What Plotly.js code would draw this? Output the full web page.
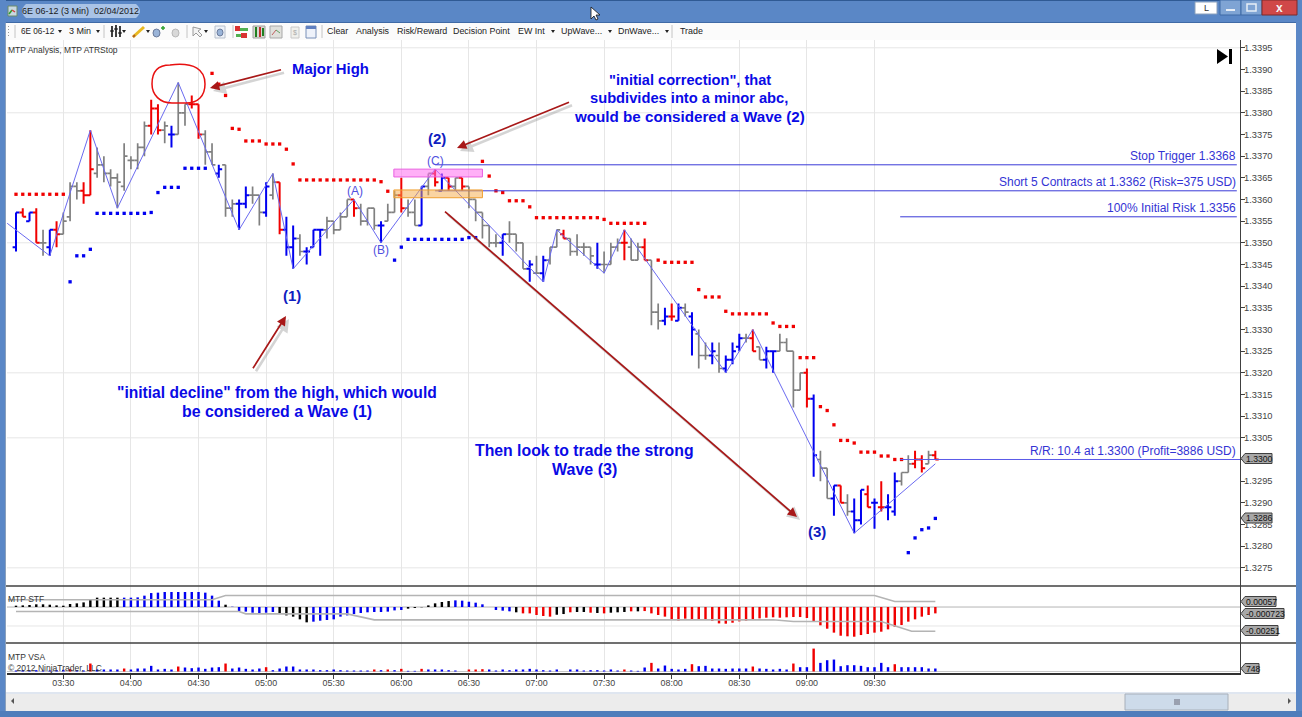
<!DOCTYPE html>
<html><head><meta charset="utf-8">
<script src="https://cdn.plot.ly/plotly-3.0.1.min.js"></script>
<style>html,body{margin:0;padding:0;background:#fff;overflow:hidden}#c{width:1302px;height:717px}</style>
</head><body><div id="c"></div>
<script>
// ---- price bars (one entry per 3-minute bar) ----
const open=[1.3349,1.3357,1.3355,1.3357,1.3350,1.3349,1.3353,1.3352,1.3356,1.3363,
1.3362,1.3361,1.3366,1.3368,1.3366,1.3365,1.3363,1.3369,1.3369,1.3372,
1.3377,1.3381,1.3376,1.3375,1.3375,1.3380,1.3382,1.3382,1.3375,1.3371,
1.3366,1.3368,1.3358,1.3359,1.3359,1.3361,1.3361,1.3357,1.3361,1.3364,
1.3353,1.3349,1.3351,1.3348,1.3349,1.3353,1.3353,1.3355,1.3353,1.3356,
1.3360,1.3358,1.3355,1.3358,1.3354,1.3355,1.3357,1.3361,1.3358,1.3357,
1.3354,1.3363,1.3366,1.3362,1.3365,1.3363,1.3365,1.3363,1.3360,1.3357,
1.3354,1.3350,1.3350,1.3352,1.3352,1.3350,1.3344,1.3343,1.3343,1.3346,
1.3349,1.3352,1.3351,1.3348,1.3349,1.3349,1.3345,1.3345,1.3345,1.3349,
1.3350,1.3349,1.3346,1.3349,1.3346,1.3334,1.3332,1.3333,1.3332,1.3335,
1.3333,1.3329,1.3324,1.3324,1.3324,1.3321,1.3323,1.3326,1.3328,1.3328,
1.3326,1.3323,1.3325,1.3325,1.3327,1.3325,1.3316,1.3320,1.3314,1.3300,
1.3298,1.3291,1.3294,1.3290,1.3288,1.3286,1.3292,1.3290,1.3289,1.3289,
1.3288,1.3295,1.3297,1.3299,1.3300,1.3299,1.3301];
const high=[1.3357,1.3358,1.3357,1.3358,1.3353,1.3353,1.3355,1.3357,1.3364,1.3364,
1.3364,1.3376,1.3372,1.3370,1.3367,1.3366,1.3373,1.3370,1.3373,1.3378,
1.3383,1.3382,1.3378,1.3377,1.3387,1.3382,1.3384,1.3382,1.3376,1.3373,
1.3368,1.3368,1.3360,1.3360,1.3363,1.3363,1.3361,1.3364,1.3366,1.3364,
1.3356,1.3354,1.3352,1.3349,1.3353,1.3353,1.3356,1.3355,1.3357,1.3360,
1.3360,1.3359,1.3358,1.3358,1.3355,1.3359,1.3362,1.3365,1.3360,1.3360,
1.3363,1.3366,1.3367,1.3366,1.3365,1.3365,1.3365,1.3363,1.3360,1.3357,
1.3354,1.3352,1.3352,1.3355,1.3352,1.3350,1.3346,1.3347,1.3347,1.3349,
1.3353,1.3353,1.3351,1.3352,1.3350,1.3349,1.3350,1.3348,1.3350,1.3351,
1.3353,1.3351,1.3350,1.3351,1.3346,1.3336,1.3335,1.3336,1.3336,1.3336,
1.3334,1.3330,1.3327,1.3327,1.3327,1.3324,1.3327,1.3329,1.3329,1.3330,
1.3326,1.3326,1.3325,1.3329,1.3328,1.3325,1.3320,1.3321,1.3315,1.3302,
1.3298,1.3294,1.3294,1.3292,1.3291,1.3293,1.3294,1.3291,1.3295,1.3292,
1.3297,1.3297,1.3301,1.3302,1.3301,1.3302,1.3302];
const low=[1.3348,1.3356,1.3355,1.3350,1.3347,1.3347,1.3349,1.3352,1.3355,1.3360,
1.3359,1.3361,1.3365,1.3364,1.3363,1.3358,1.3362,1.3367,1.3367,1.3370,
1.3375,1.3375,1.3373,1.3372,1.3375,1.3377,1.3381,1.3374,1.3368,1.3368,
1.3365,1.3356,1.3356,1.3353,1.3358,1.3359,1.3354,1.3356,1.3360,1.3352,
1.3347,1.3344,1.3347,1.3345,1.3349,1.3347,1.3351,1.3352,1.3353,1.3356,
1.3356,1.3354,1.3354,1.3353,1.3350,1.3355,1.3357,1.3357,1.3356,1.3354,
1.3354,1.3361,1.3363,1.3362,1.3362,1.3362,1.3362,1.3358,1.3355,1.3351,
1.3349,1.3349,1.3347,1.3350,1.3348,1.3344,1.3341,1.3343,1.3341,1.3345,
1.3349,1.3351,1.3347,1.3347,1.3347,1.3345,1.3344,1.3343,1.3345,1.3348,
1.3346,1.3346,1.3346,1.3346,1.3331,1.3330,1.3331,1.3332,1.3332,1.3333,
1.3324,1.3321,1.3323,1.3322,1.3320,1.3320,1.3322,1.3325,1.3327,1.3325,
1.3323,1.3321,1.3320,1.3325,1.3325,1.3312,1.3316,1.3312,1.3296,1.3295,
1.3291,1.3287,1.3290,1.3287,1.3283,1.3285,1.3289,1.3284,1.3288,1.3286,
1.3287,1.3294,1.3297,1.3298,1.3297,1.3299,1.3300];
const close=[1.3357,1.3356,1.3357,1.3350,1.3350,1.3353,1.3352,1.3355,1.3363,1.3362,
1.3361,1.3367,1.3368,1.3366,1.3365,1.3364,1.3370,1.3369,1.3372,1.3377,
1.3381,1.3376,1.3377,1.3375,1.3380,1.3382,1.3382,1.3375,1.3371,1.3368,
1.3367,1.3358,1.3359,1.3359,1.3361,1.3361,1.3357,1.3363,1.3364,1.3353,
1.3349,1.3351,1.3348,1.3348,1.3353,1.3353,1.3355,1.3353,1.3356,1.3360,
1.3358,1.3355,1.3358,1.3354,1.3354,1.3357,1.3361,1.3358,1.3357,1.3354,
1.3363,1.3366,1.3364,1.3365,1.3363,1.3365,1.3363,1.3360,1.3357,1.3354,
1.3350,1.3350,1.3352,1.3352,1.3350,1.3344,1.3345,1.3343,1.3346,1.3349,
1.3353,1.3351,1.3348,1.3349,1.3349,1.3347,1.3345,1.3345,1.3349,1.3350,
1.3350,1.3346,1.3349,1.3346,1.3334,1.3332,1.3333,1.3333,1.3335,1.3334,
1.3330,1.3324,1.3324,1.3325,1.3321,1.3323,1.3325,1.3328,1.3328,1.3325,
1.3323,1.3325,1.3325,1.3327,1.3325,1.3316,1.3320,1.3314,1.3301,1.3298,
1.3291,1.3294,1.3290,1.3288,1.3286,1.3293,1.3289,1.3290,1.3289,1.3289,
1.3295,1.3297,1.3299,1.3300,1.3298,1.3301,1.3300];
const barColor="brbrgbrggg"+"rrgggggggg"+"rrgbggrrgg"+"bggbbggbgr"+"bbgbbbgggg"+"rgggbggrgg"+"bgrbrgrggg"+"ggbgggbgbg"+"grggggbggg"+"rggrggbrbg"+"bggbgbbbgr"+"gbbggggrbg"+"gbrgbbrbrb"+"bggrrgr";

// ---- ATR stop dots ----
const redStopBars=[0,1,2,3,4,5,6,7,29,30,31,32,33,34,35,36,37,38,39,40,41,42,43,44,45,46,47,48,49,50,51,52,53,54,55,
69,70,71,72,73,74,75,76,77,78,79,80,81,82,83,84,85,86,87,88,89,90,91,92,93,95,96,97,98,99,100,101,102,103,104,105,
106,107,108,109,110,111,112,113,114,115,116,117,118,119,120,121,122,123,124,125,126,127,128,129,130,131];
const redStopPrices=[1.33612,1.33612,1.33612,1.33612,1.33612,1.33612,1.33612,1.33612,1.33891,1.33866,1.3384,1.33764,1.33762,1.33735,1.33735,1.33735,1.33728,1.33728,1.33728,1.33716,1.33682,
1.33645,1.33645,1.33645,1.33645,1.33645,1.33645,1.33645,1.33645,1.33645,1.33645,1.33645,1.33645,1.33641,1.33619,
1.33688,1.33654,1.3362,1.33616,1.33597,1.33597,1.33597,1.33583,1.33558,1.33558,1.33558,1.33558,1.33558,1.33558,1.33558,1.33558,1.33558,1.33558,1.33554,
1.33545,1.33545,1.33545,1.33545,1.33545,1.33545,1.3346,1.33455,1.33455,1.33455,1.33455,1.33455,1.33392,1.33375,1.33375,1.33375,1.33342,
1.33336,1.33336,1.33336,1.33336,1.33336,1.33336,1.33315,1.33307,1.33307,1.33307,1.33235,1.33235,1.33235,1.33122,1.33113,1.3308,1.33044,1.33044,1.33038,1.33017,1.33017,1.33017,1.33008,1.33008,1.3300,1.3300];
const blueStopBars=[8,9,10,11,12,13,14,15,16,17,18,19,20,21,22,23,24,25,26,27,28,56,57,58,59,60,61,62,63,64,65,66,67,68,132,133,134,135,136];
const blueStopPrices=[1.3341,1.3347,1.3347,1.33485,1.33568,1.33568,1.33568,1.33568,1.33568,1.33568,1.33568,1.33568,1.3357,1.33616,1.33628,1.33628,1.33628,1.33672,1.33672,1.33672,1.33672,
1.3346,1.3349,1.33508,1.33508,1.33508,1.33508,1.33508,1.33508,1.33508,1.33508,1.33508,1.33512,1.33512,1.32785,1.32819,1.32838,1.32842,1.32864];

// ---- wave zig-zag ----
const waveBars=[-1.3,5,11,15,24,33,38,41,50,54,62,78,80,87,90,105,109,124,136];
const wavePrices=[1.33545,1.3347,1.3376,1.3358,1.3387,1.3353,1.3366,1.3344,1.3360,1.3350,1.3367,1.3341,1.3353,1.3343,1.3353,1.3320,1.3330,1.3283,1.3299];

// ---- trade levels ----
const stopLevel=1.3368, entryLevel=1.3362, riskLevel=1.3356, targetLevel=1.3300;
const gridPrices=[1.3395,1.3380,1.3350,1.3320,1.3305,1.3275];

// ---- MTP STF oscillator (x 1e-5) ----
const stfValues=[14,17,21,28,28,24,17,14,31,38,48,80,97,97,97,97,97,97,100,118,145,149,156,156,156,156,156,156,149,118,66,24,3,
-45,-48,-59,-62,-59,-52,-69,-87,-100,-128,-159,-152,-142,-135,-128,-100,-87,-73,-62,-55,-52,-52,-48,-35,-31,-17,-10,-3,
17,38,52,62,69,66,55,45,28,0,-31,-38,-45,-55,-66,-66,-83,-93,-100,-80,-73,-55,-52,-52,-59,-62,-66,-59,-55,-52,-45,-45,-42,
-66,-83,-100,-128,-142,-121,-128,-128,-135,-145,-170,-173,-163,-149,-142,-135,-118,-111,-107,-111,-107,-104,-104,-114,-152,-190,-225,-266,-298,-304,-308,-291,-280,-266,-256,-232,-204,-187,-152,-128,-100,-83,-66];
const stfColor="kkkkkkkkkk"+"kkkkkkbbbb"+"bbbbbbbbbb"+"bkbbbbbbbk"+"kkkkbbbbbb"+"bbbbbbbbkk"+"kkkkkbbbbb"+"bbbbkrrrrr"+"kkrkkrkrkk"+"krkrrrrrrr"+"rrrrrrrrrr"+"rrrrrrrrrr"+"rrrrrrrrrr"+"rrrrrrr";
const upperBandBars=[-1.2,29,31,127,130,136];
const upperBandValues=[75,75,119,119,57,57];
const lowerBandBars=[0,33,34,49,53,112,115,128,132.5,136];
const lowerBandValues=[-47,-47,-71,-71,-133,-133,-150,-150,-251,-251];

// ---- MTP VSA volume ----
const volumes=[250,330,250,330,250,250,330,415,580,330,250,1992,498,498,498,498,747,498,747,747,1411,498,664,498,1245,996,830,996,664,996,1079,1992,747,996,664,498,747,1079,332,747,1245,1245,
498,498,498,332,332,498,332,249,249,249,249,498,332,498,332,664,166,166,664,498,498,498,332,249,0,498,498,581,498,249,498,332,498,498,664,498,332,249,498,0,498,498,249,332,332,249,498,249,498,249,166,996,
2158,747,1494,664,498,664,1826,1328,1411,747,747,664,747,747,747,1245,747,664,498,664,498,1992,1079,1079,5727,2158,2822,2988,1328,1577,1577,1411,1079,1079,2158,1079,1826,1079,1079,1079,1079,748,748];
const volRedBars=[8,11,16,24,31,37,53,55,57,60,67,68,69,90,94,100,109,115,118,130];

// ---- axis ----
const timeTickBars=[7,17,27,37,47,57,67,77,87,97,107,117,127];
const timeTickLabels=["03:30","04:00","04:30","05:00","05:30","06:00","06:30","07:00","07:30","08:00","08:30","09:00","09:30"];
const priceTicks=[1.3395,1.3390,1.3385,1.3380,1.3375,1.3370,1.3365,1.3360,1.3355,1.3350,1.3345,1.3340,1.3335,1.3330,1.3325,1.3320,1.3315,1.3310,1.3305,1.3300,1.3295,1.3290,1.3285,1.3280,1.3275];

// ---------------- drawing ----------------
const FONT='"Liberation Sans", Arial, sans-serif';
const barIdx=open.map((_,i)=>i);
const palette={b:'#0000f0',r:'#f00000',g:'#808080',k:'#000000'};
const lw={b:2,r:2,g:1.7};
function ohlcFor(c){
  const idx=barIdx.filter(i=>barColor[i]===c);
  const ln={line:{color:palette[c],width:lw[c]}};
  return {type:'ohlc',x:idx,open:idx.map(i=>open[i]),high:idx.map(i=>high[i]),low:idx.map(i=>low[i]),close:idx.map(i=>close[i]),
    increasing:ln,decreasing:ln,tickwidth:0.5,xaxis:'x',yaxis:'y',hoverinfo:'skip'};
}
function hline(p,a,b,col){return {type:'scatter',mode:'lines',x:[a,b],y:[p,p],line:{color:col||'#3a3ad8',width:1},xaxis:'x',yaxis:'y',hoverinfo:'skip'};}
const traces=[
  ohlcFor('g'),ohlcFor('r'),ohlcFor('b'),
  {type:'scatter',mode:'lines',x:waveBars,y:wavePrices,line:{color:'#6a6af0',width:1},xaxis:'x',yaxis:'y',hoverinfo:'skip'},
  {type:'scatter',mode:'markers',x:redStopBars,y:redStopPrices,marker:{symbol:'square',size:3.3,color:'#f00000'},xaxis:'x',yaxis:'y',hoverinfo:'skip'},
  {type:'scatter',mode:'markers',x:blueStopBars,y:blueStopPrices,marker:{symbol:'square',size:3.3,color:'#0000f0'},xaxis:'x',yaxis:'y',hoverinfo:'skip'},
  hline(stopLevel,62,180.6),hline(entryLevel,62,180.6),hline(riskLevel,130.8,180.6),hline(targetLevel,130.8,181.07,'#5a5ae8'),
  {type:'scatter',mode:'lines',x:upperBandBars,y:upperBandValues.map(v=>v*1e-5),line:{color:'#b4b4b4',width:1.6},xaxis:'x',yaxis:'y2',hoverinfo:'skip'},
  {type:'scatter',mode:'lines',x:lowerBandBars,y:lowerBandValues.map(v=>v*1e-5),line:{color:'#b4b4b4',width:1.6},xaxis:'x',yaxis:'y2',hoverinfo:'skip'},
  {type:'bar',x:barIdx,y:stfValues.map(v=>v*1e-5),width:0.36,marker:{color:barIdx.map(i=>palette[stfColor[i]]),line:{width:0}},xaxis:'x',yaxis:'y2',hoverinfo:'skip'},
  {type:'bar',x:barIdx,y:volumes,width:0.36,marker:{color:barIdx.map(i=>volRedBars.includes(i)?'#f00000':'#0000f0'),line:{width:0}},xaxis:'x',yaxis:'y3',hoverinfo:'skip'}
];

// pixel helpers for chrome, callouts and captions
const L=7,R=1240,T=40,B=673;
const px=x=>(x-L)/(R-L), py=y=>(B-y)/(B-T);
const shapes=[], ann=[];
function rect(x0,y0,x1,y1,fill,line,lwid){shapes.push({type:'rect',xref:'paper',yref:'paper',x0:px(x0),x1:px(x1),y0:py(y0),y1:py(y1),fillcolor:fill,line:{color:line||fill,width:line?(lwid||1):0},layer:'above'});}
function seg(x0,y0,x1,y1,col,w,layer){shapes.push({type:'line',xref:'paper',yref:'paper',x0:px(x0),x1:px(x1),y0:py(y0),y1:py(y1),line:{color:col,width:w||1},layer:layer||'above'});}
function poly(pts,fill,line,w){
  const d='M'+pts.map(p=>px(p[0])+','+py(p[1])).join(' L')+' Z';
  shapes.push({type:'path',xref:'paper',yref:'paper',path:d,fillcolor:fill,line:{color:line||fill,width:line?(w||1):0},layer:'above'});
}
function txt(x,y,t,size,col,anchor,bold){
  ann.push({xref:'paper',yref:'paper',x:px(x),y:py(y),text:bold?'<b>'+t+'</b>':t,showarrow:false,xanchor:anchor||'left',yanchor:'middle',
    font:{family:FONT,size:size,color:col},borderpad:0,borderwidth:0,captureevents:false});
}
function arrow(tx,ty,hx,hy){
  ann.push({xref:'paper',yref:'paper',x:px(hx+3),y:py(hy+3),ax:tx-hx,ay:ty-hy,text:' ',showarrow:true,arrowhead:2,arrowsize:1,arrowwidth:2.6,arrowcolor:'rgba(150,150,150,0.4)',standoff:0});
  ann.push({xref:'paper',yref:'paper',x:px(hx),y:py(hy),ax:tx-hx,ay:ty-hy,text:' ',showarrow:true,arrowhead:2,arrowsize:1.1,arrowwidth:1.7,arrowcolor:'#a81818',standoff:0});
}
// price grid (below traces)
gridPrices.forEach(p=>shapes.push({type:'line',xref:'paper',yref:'y',x0:0,x1:1,y0:p,y1:p,line:{color:'#e6e6e6',width:1},layer:'below'}));
shapes.push({type:'line',xref:'paper',yref:'y2',x0:0,x1:1,y0:0,y1:0,line:{color:'#b4b4b4',width:1},layer:'below'});
shapes.push({type:'line',xref:'paper',yref:'y2',x0:0,x1:1,y0:-0.00197,y1:-0.00197,line:{color:'#e6e6e6',width:1},layer:'below'});
shapes.push({type:'line',xref:'paper',yref:'y3',x0:0,x1:1,y0:0,y1:0,line:{color:'#c8c8c8',width:1},layer:'below'});
// highlight zones
shapes.push({type:'rect',xref:'x',yref:'y',x0:55.9,x1:69,y0:1.33652,y1:1.3367,fillcolor:'rgba(255,110,240,0.55)',line:{color:'#e860e0',width:1},layer:'above'});
shapes.push({type:'rect',xref:'x',yref:'y',x0:55.9,x1:69,y0:1.33604,y1:1.33622,fillcolor:'rgba(245,170,70,0.5)',line:{color:'#f0a030',width:1},layer:'above'});
// major high ring
shapes.push({type:'path',xref:'paper',yref:'paper',
  path:'M'+px(170)+','+py(65)+' C'+px(195)+','+py(62)+' '+px(205)+','+py(70)+' '+px(205)+','+py(84)+' C'+px(205)+','+py(96)+' '+px(198)+','+py(103)+' '+px(186)+','+py(103)+' L'+px(172)+','+py(103)+' C'+px(160)+','+py(103)+' '+px(152)+','+py(95)+' '+px(152)+','+py(84)+' C'+px(152)+','+py(72)+' '+px(158)+','+py(65)+' '+px(170)+','+py(65)+' Z',
  line:{color:'#e81010',width:1.5},layer:'above'});
// pane separators
seg(5,586,1297,586,'#404040',1.5);
seg(5,643,1297,643,'#404040',1.5);

// window chrome
rect(0,0,1302,22,'#5a87c6');
rect(0,0,1302,1,'#2f5a94');
rect(0,22,1302,23,'#3f6aa6');
rect(0,23,1302,40,'#fbfbfb');
rect(0,0,6,717,'#5a87c6');
rect(1296,0,1302,717,'#5a87c6');
rect(5,23,6,712,'#8aa0bc');
rect(6,692,1296,694,'#dfe6f0');
rect(6,694,1296,711,'#ececec');
rect(0,711,1302,717,'#4f7dbb');
// title
shapes.push({type:'path',xref:'paper',yref:'paper',path:'M'+px(26)+','+py(4)+' L'+px(136)+','+py(4)+' Q'+px(144)+','+py(11)+' '+px(136)+','+py(18)+' L'+px(26)+','+py(18)+' Q'+px(18)+','+py(11)+' '+px(26)+','+py(4)+' Z',fillcolor:'#a9c3e6',line:{width:0},layer:'above'});
rect(8,6,17,16,'#c8d8e0','#6a8a6a');
seg(9,14,12,10,'#30a030',1.5);seg(12,10,15,12,'#d04040',1.5);
txt(22,11,'6E 06-12 (3 Min)  02/04/2012',9,'#1a1a1a');
// window buttons
rect(1195,2,1217,14,'#ffffff','#8aa0bc');
txt(1206,8,'L',9,'#333','center');
rect(1220,0,1241,15,'#7fa4d4','#3f6aa6');rect(1241,0,1262,15,'#7fa4d4','#3f6aa6');rect(1262,0,1297,15,'#d04848','#7a2a2a');
rect(1226,9,1235,11,'#e8eef6');rect(1247,4,1256,11,'#7fa4d4','#e8eef6',1.5);
txt(1279.5,7.5,'x',12,'#f4f4f4','center',true);
// cursor
poly([[591,7],[591,19],[594,16],[596,20],[598,19],[596,15],[600,15]],'#ffffff','#111111',0.8);
// toolbar text
txt(21,31.5,'6E 06-12',8.2,'#222');txt(69,31.5,'3 Min',9,'#222');
[['Clear',327],['Analysis',356],['Risk/Reward',397],['Decision Point',453],['EW Int',518],['UpWave...',561],['DnWave...',618],['Trade',680]].forEach(a=>txt(a[1],31.5,a[0],8.9,'#222'));
[60,98,124,148,206,553,610,667].forEach(x=>poly([[x-2,30],[x+2,30],[x,33]],'#222'));
[8].forEach(x=>{[26,29,32,35].forEach(y=>rect(x,y,x+1,y+1,'#9a9a9a'));});
[15,104,187,233,322,672].forEach(x=>seg(x,25,x,38,'#c4c4c4',1));
// toolbar icons
seg(112,26,112,37,'#111',1.6);seg(116,25,116,37,'#111',1.6);seg(120,26,120,37,'#111',1.6);seg(110,31,114,31,'#111',1);seg(114,29,118,29,'#111',1);seg(118,33,122,33,'#111',1);
seg(133,37,144,27,'#e8b820',3);seg(133,37,135,35,'#b06020',2);
shapes.push({type:'circle',xref:'paper',yref:'paper',x0:px(153),x1:px(160),y0:py(37),y1:py(29),fillcolor:'#9ab4d8',line:{color:'#6a7a9a',width:1},layer:'above'});
seg(161,28,165,28,'#30a030',1.5);seg(163,26,163,30,'#30a030',1.5);
shapes.push({type:'circle',xref:'paper',yref:'paper',x0:px(172),x1:px(179),y0:py(37),y1:py(29),fillcolor:'#d8d8d8',line:{color:'#b8b8b8',width:1},layer:'above'});
poly([[193,27],[193,36],[196,33],[200,37],[202,35],[198,31],[201,29]],'#f2f2f2','#9a9a9a',1);
rect(215,26,225,38,'#eef2f8','#b8c0cc');
shapes.push({type:'circle',xref:'paper',yref:'paper',x0:px(217),x1:px(223),y0:py(36),y1:py(29),fillcolor:'#9ab4d8',line:{color:'#6a7a9a',width:1},layer:'above'});
rect(235,26,240,31,'#d83030');rect(241,33,247,38,'#d83030');rect(240,28,248,31,'#50b050');rect(236,34,241,37,'#50b050');
rect(253,26,265,38,'#d8d8d0','#a0a0a0');seg(256,27,256,37,'#208020',2);seg(260,27,260,37,'#c03030',2);seg(263,28,263,36,'#208020',2);
rect(270,26,282,38,'#e0e0dc','#a8a8a8');seg(272,35,276,30,'#c06060',1);seg(276,30,280,33,'#60a060',1);
rect(291,27,299,38,'#f0f0ec','#c8c8c8');txt(295,32.5,'$',7,'#aaa','center');
rect(306,26,316,38,'#eef2fa','#7890b8');rect(306,26,316,29,'#6080c0');
// chart captions
txt(8,50,'MTP Analysis, MTP ATRStop',8.5,'#333');
txt(8,599,'MTP STF',8.5,'#333');
txt(8,657,'MTP VSA',8.5,'#333');
txt(8,668,'© 2012 NinjaTrader, LLC',8.5,'#333');
// skip-to-end icon
poly([[1217,49],[1228,56.5],[1217,64]],'#000');rect(1229,49,1232,64,'#000');
// commentary
const B1='#0a0ae6';
txt(292,69,'Major High',14.9,B1,'left',true);
txt(689.5,80,'"initial correction", that',14.6,B1,'center',true);
txt(689,98,'subdivides into a minor abc,',14.7,B1,'center',true);
txt(689.5,116,'would be considered a Wave (2)',15.2,B1,'center',true);
txt(276.5,393,'"initial decline" from the high, which would',15.6,B1,'center',true);
txt(276.5,411,'be considered a Wave (1)',15.9,B1,'center',true);
txt(584.5,451,'Then look to trade the strong',15.8,B1,'center',true);
txt(584.5,469,'Wave (3)',16,B1,'center',true);
txt(437,138,'(2)',15,'#1020c0','center',true);
txt(292,295,'(1)',15,'#1020c0','center',true);
txt(817,531,'(3)',15,'#1020c0','center',true);
txt(355,190.5,'(A)',12,'#5050e0','center');
txt(381,250,'(B)',12,'#5050e0','center');
txt(435,161,'(C)',12,'#5050e0','center');
const C2='#3434d4';
txt(1236,156,'Stop Trigger 1.3368',12,C2,'right');
txt(1236,182,'Short 5 Contracts at 1.3362 (Risk=375 USD)',12,C2,'right');
txt(1236,208,'100% Initial Risk 1.3356',12,C2,'right');
txt(1236,451,'R/R: 10.4 at 1.3300 (Profit=3886 USD)',12,C2,'right');
arrow(284,69,210,88);
arrow(572,101,457,148);
arrow(250,373,286,316);
arrow(442,209,797,517);
// value flags on the right scale
function flag(y,x1,t){
  poly([[1241,y],[1245,y-5],[x1,y-5],[x1,y+5],[1245,y+5]],'#a8a8a8','#404040',1);
  txt(1246,y,t,8.6,'#111');
}
flag(458.5,1272,'1.3300');flag(518,1272,'1.3286');
flag(601.5,1276,'0.00057');flag(613.5,1284,'-0.000723');flag(630.5,1278,'-0.00251');flag(668.5,1259,'748');
// scrollbar
rect(1125,694,1228,710,'#cddbea','#a8b0ba');
[1175,1177,1179].forEach(x=>seg(x,699,x,705,'#667',1));
poly([[14,698],[14,704],[11,701]],'#555');poly([[1288,698],[1288,704],[1291,701]],'#555');

const layout={
  width:1302,height:717,margin:{l:L,r:1302-R,t:T,b:717-B,pad:0},
  paper_bgcolor:'#ffffff',plot_bgcolor:'#ffffff',showlegend:false,barmode:'overlay',dragmode:false,
  font:{family:FONT,size:9.3,color:'#444'},
  xaxis:{domain:[0,1],range:[-1.331,181.07],anchor:'y3',tickvals:timeTickBars,ticktext:timeTickLabels,ticks:'outside',ticklen:4,tickcolor:'#404040',tickwidth:1,ticklabelstandoff:-3,
    showline:true,linecolor:'#303030',linewidth:1.5,showgrid:true,gridcolor:'#e6e6e6',gridwidth:1,zeroline:false,tickfont:{family:FONT,size:8.9,color:'#444'},rangeslider:{visible:false},fixedrange:true},
  yaxis:{domain:[0.1374,1],range:[1.32708,1.33968],side:'right',anchor:'x',tickvals:priceTicks,ticktext:priceTicks.map(p=>p.toFixed(4)),ticks:'outside',ticklen:4,tickcolor:'#404040',ticklabelstandoff:-3,
    showline:true,linecolor:'#404040',linewidth:1.2,showgrid:false,zeroline:false,tickfont:{family:FONT,size:9.3,color:'#444'},fixedrange:true},
  yaxis2:{domain:[0.0474,0.1374],range:[-0.003734,0.002178],side:'right',anchor:'x',showticklabels:false,ticks:'',showline:true,linecolor:'#404040',linewidth:1.2,showgrid:false,zeroline:false,fixedrange:true},
  yaxis3:{domain:[0,0.0474],range:[-375,7125],side:'right',anchor:'x',showticklabels:false,ticks:'',showline:true,linecolor:'#404040',linewidth:1.2,showgrid:false,zeroline:false,fixedrange:true},
  shapes:shapes,annotations:ann
};
Plotly.newPlot('c',traces,layout,{displayModeBar:false,staticPlot:true});
</script>
</body></html>
